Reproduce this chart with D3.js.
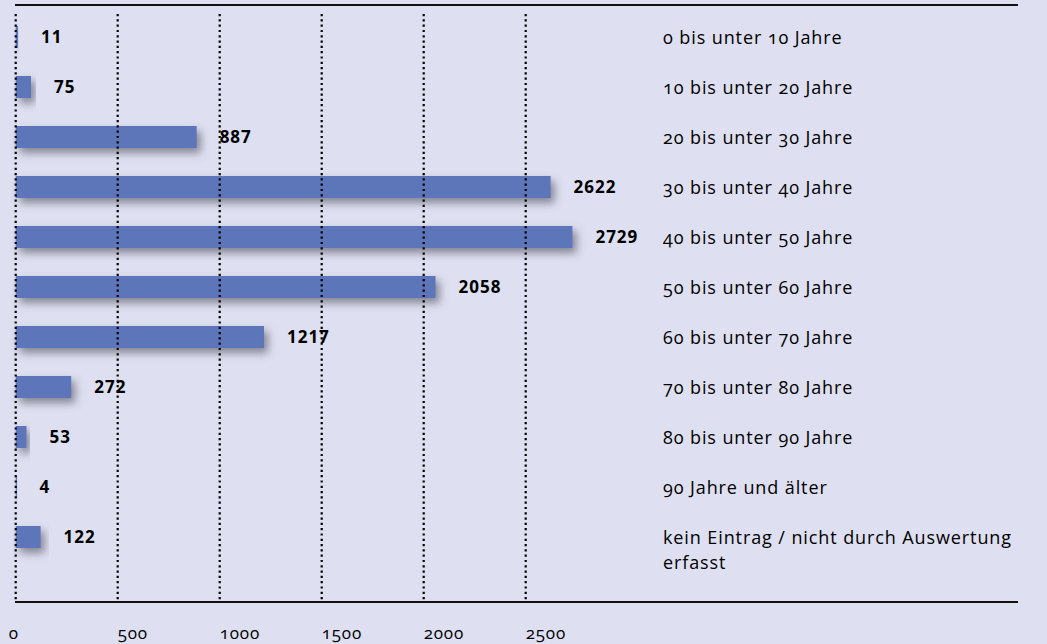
<!DOCTYPE html>
<html>
<head>
<meta charset="utf-8">
<script src="https://cdn.jsdelivr.net/npm/d3@7"></script>
<style>
  body { margin: 0; background: #dedff0; }
  svg { display: block; font-family: "Open Sans", sans-serif; font-variant-numeric: oldstyle-nums; }
  .val { font-weight: bold; font-size: 17px; letter-spacing: 1px; font-variant-numeric: lining-nums; }
  .cat { font-size: 18px; letter-spacing: 0.9px; }
  .tick-label { font-size: 17px; letter-spacing: 0.8px; }
</style>
</head>
<body>
<script>
// data
const categories = [
  "0 bis unter 10 Jahre", "10 bis unter 20 Jahre", "20 bis unter 30 Jahre",
  "30 bis unter 40 Jahre", "40 bis unter 50 Jahre", "50 bis unter 60 Jahre",
  "60 bis unter 70 Jahre", "70 bis unter 80 Jahre", "80 bis unter 90 Jahre",
  "90 Jahre und älter", "kein Eintrag / nicht durch Auswertung|erfasst"
];
const values = [11, 75, 887, 2622, 2729, 2058, 1217, 272, 53, 4, 122];
const ticks = [0, 500, 1000, 1500, 2000, 2500];

// dimensions
const width = 1047, height = 644;
const barHeight = 22;

const svg = d3.select("body").append("svg")
  .attr("width", width)
  .attr("height", height);

// shadow filter
const defs = svg.append("defs");
defs.append("filter")
  .attr("id", "shadow")
  .attr("x", "-10%").attr("y", "-60%")
  .attr("width", "140%").attr("height", "280%")
  .append("feDropShadow")
  .attr("dx", 4).attr("dy", 5)
  .attr("stdDeviation", 4)
  .attr("flood-color", "#5e5e6e")
  .attr("flood-opacity", 0.7);

// scales
const x = d3.scaleLinear().domain([0, 2500]).range([15.7, 525.7]);
const y = d3.scaleBand().domain(d3.range(values.length)).range([12, 562]);

// top + bottom lines
svg.append("line")
  .attr("x1", 15).attr("x2", 1018).attr("y1", 5).attr("y2", 5)
  .attr("stroke", "#111").attr("stroke-width", 2);
svg.append("line")
  .attr("x1", 15).attr("x2", 1018).attr("y1", 602).attr("y2", 602)
  .attr("stroke", "#111").attr("stroke-width", 2);

// bars (drawn before gridlines so the dots sit on top)
svg.selectAll("rect.bar")
  .data(values)
  .enter()
  .append("rect")
  .attr("class", "bar")
  .attr("x", x(0))
  .attr("y", (d, i) => y(i) + (y.bandwidth() - barHeight) / 2)
  .attr("width", d => Math.max(x(d) - x(0), 1.2))
  .attr("height", barHeight)
  .attr("fill", "#5d74b9")
  .attr("filter", "url(#shadow)");

// dotted gridlines
svg.selectAll("line.grid")
  .data(ticks)
  .enter()
  .append("line")
  .attr("class", "grid")
  .attr("x1", d => x(d)).attr("x2", d => x(d))
  .attr("y1", 14).attr("y2", 601)
  .attr("stroke", "#000")
  .attr("stroke-width", 2.2)
  .attr("stroke-dasharray", "2.2,3.1");

// tick labels
svg.selectAll("text.tick-label")
  .data(ticks)
  .enter()
  .append("text")
  .attr("class", "tick-label")
  .attr("x", d => d === 0 ? x(d) - 7 : x(d))
  .attr("y", 639)
  .text(d => d);

// value labels
svg.selectAll("text.val")
  .data(values)
  .enter()
  .append("text")
  .attr("class", "val")
  .attr("x", d => x(d) + 23)
  .attr("y", (d, i) => y(i) + y.bandwidth() / 2 + 6)
  .text(d => d);

// category labels
svg.selectAll("text.cat")
  .data(categories)
  .enter()
  .append("text")
  .attr("class", "cat")
  .attr("x", 663)
  .attr("y", (d, i) => y(i) + y.bandwidth() / 2 + 7)
  .each(function(d) {
    d.split("|").forEach((line, j) => {
      d3.select(this).append("tspan")
        .attr("x", 663)
        .attr("dy", j === 0 ? 0 : 25)
        .text(line);
    });
  });
</script>
</body>
</html>
